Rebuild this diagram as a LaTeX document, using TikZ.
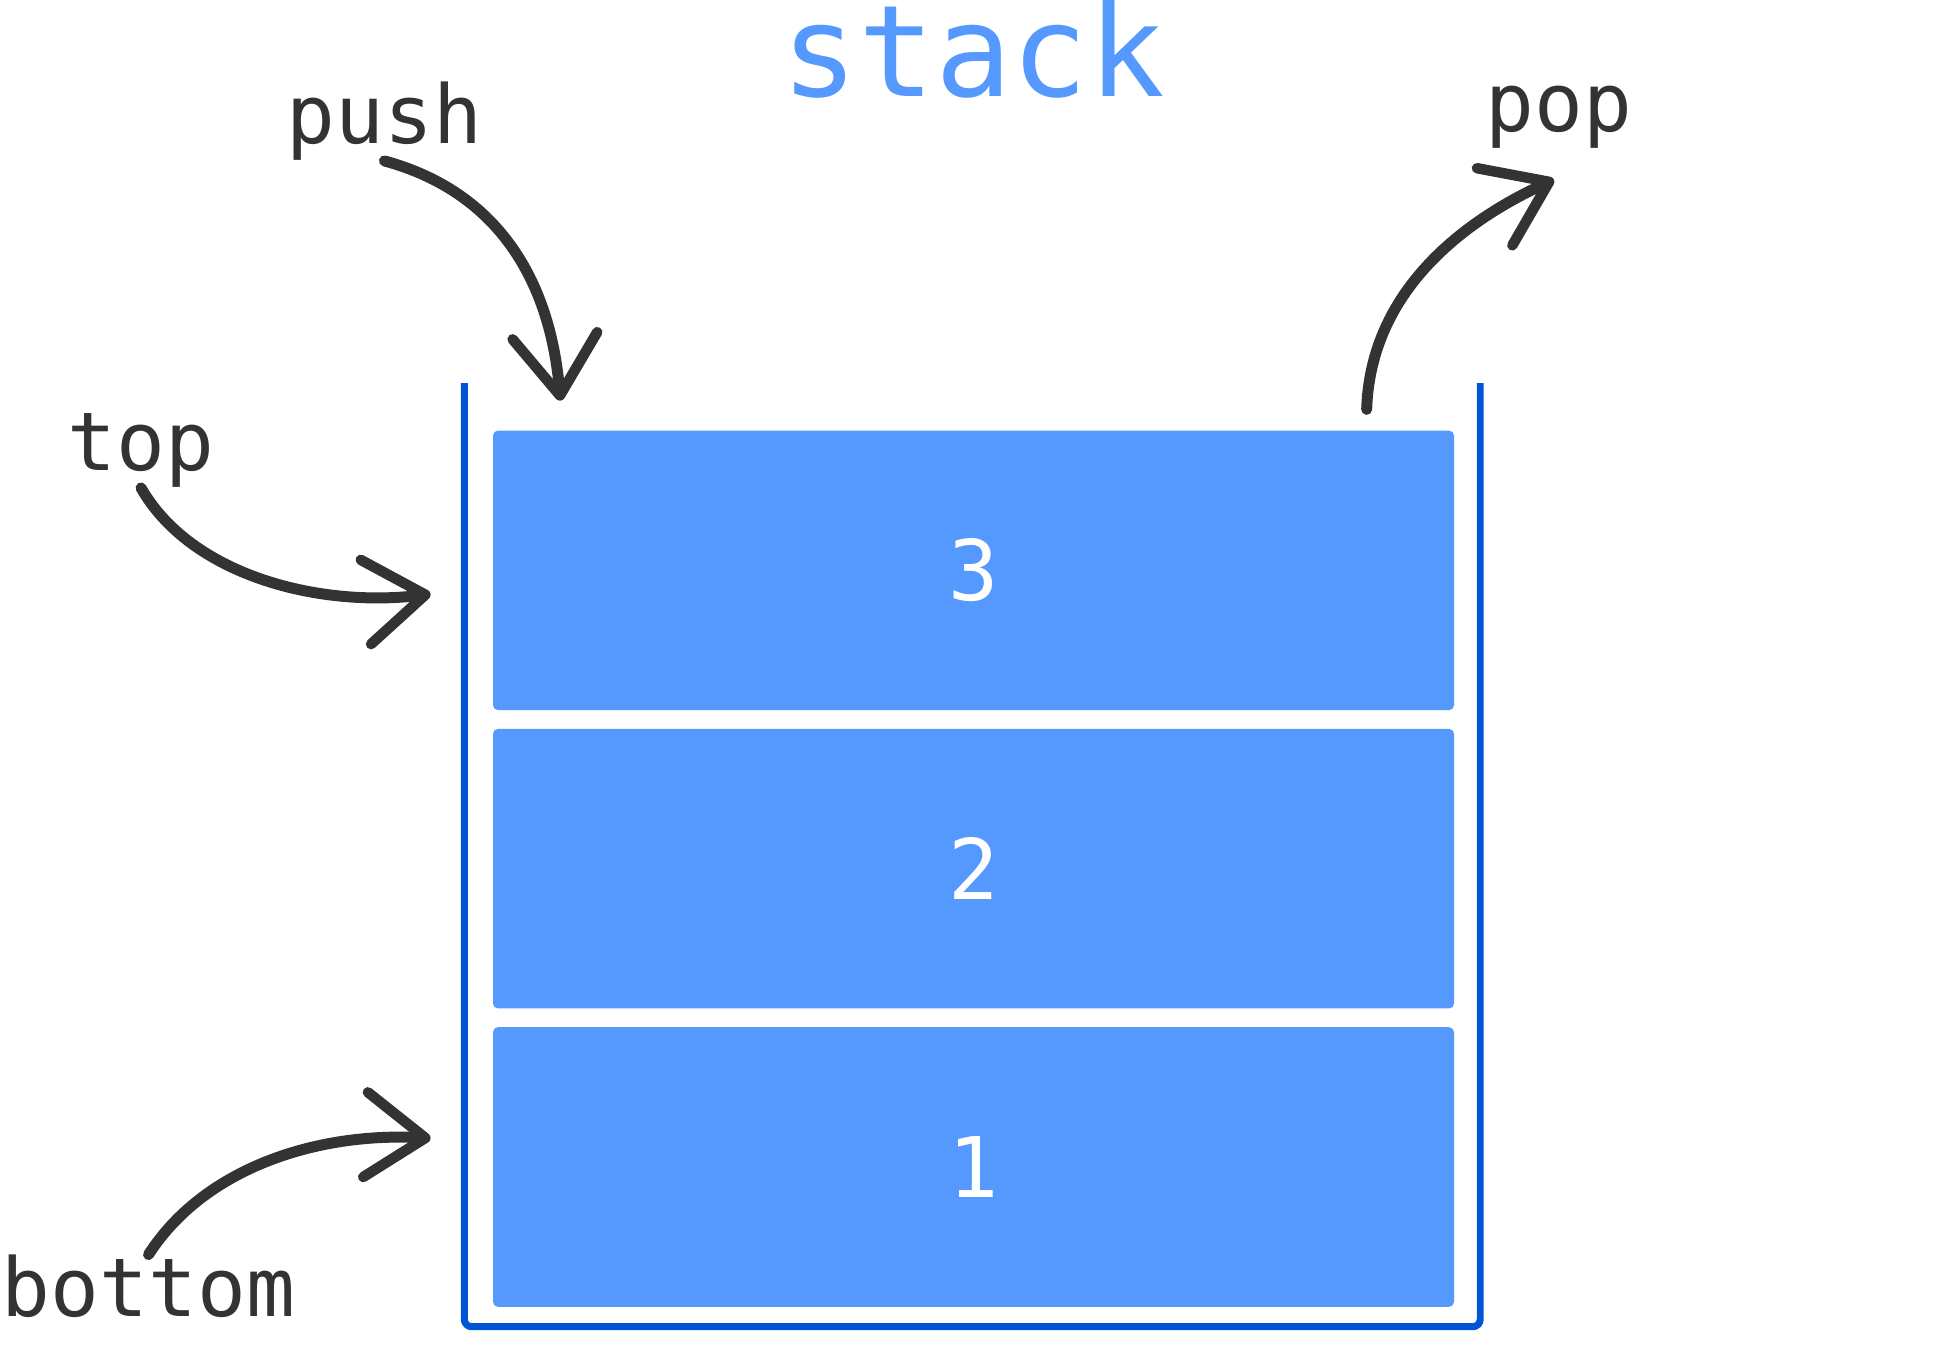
\documentclass[tikz,border=0pt]{standalone}
\usepackage{fontspec}
\setmonofont{DejaVu Sans Mono}
\usepackage{tikz}
\usepackage{xcolor}
\usetikzlibrary{arrows.meta, positioning}
\definecolor{boxblue}{HTML}{5599FF}
\definecolor{wallblue}{HTML}{0055D4}
\definecolor{ink}{HTML}{333333}

\begin{document}
\begin{tikzpicture}[x=0.5pt, y=-0.5pt,
    lbl/.style={font=\ttfamily\fontsize{32.5}{36}\selectfont, text=ink, inner sep=0pt, anchor=base},
    cell/.style={fill=boxblue, rounded corners=2pt, minimum width=385pt, minimum height=112pt,
      inner sep=0pt, text=white, font=\ttfamily\fontsize{33.5}{36}\selectfont},
    wall/.style={draw=wallblue, line width=2.8pt, rounded corners=3pt},
    hand/.style={draw=ink, line width=4.4pt, line cap=round,
      -{Straight Barb[length=24pt, width=34pt, line width=4.2pt, round]}},
  ]
  \useasboundingbox (0,0) rectangle (1568,1082.5);
  % title
  \node[font=\ttfamily\fontsize{51}{56}\selectfont, text=boxblue, inner sep=0pt, anchor=base] (title) at (780,77) {stack};
  % container
  \draw[wall] (372,307) -- (372,1063) -- (1186,1063) -- (1186,307);
  \foreach \n/\y in {3/457, 2/696, 1/935} {
    \node[cell] (box\n) at (780,\y) {\n};
  }
  % labels
  \node[lbl] (push) at (308,115) {push};
  \node[lbl] (pop) at (1249,105) {pop};
  \node[lbl] (top) at (113,377) {top};
  \node[lbl] (bottom) at (119,1055) {bottom};
  \coordinate (pushin) at (449,321);
  \coordinate (topin) at (345,476);
  \coordinate (botin) at (345,912);
  \coordinate (popout) at (1095,328);
  % Draw arrows
  \draw[hand] (push.south) .. controls +(92,25) and +(-8,-95) .. (pushin);
  \draw[hand] (top.south) .. controls +(40,70) and +(-90,11) .. (topin);
  \draw[hand] (bottom.north) .. controls +(45,-70) and +(-90,-5) .. (botin);
  \draw[hand] (popout) .. controls +(3,-95) and +(-72,33) .. ([shift={(-4,25)}]pop.south);
\end{tikzpicture}
\end{document}
